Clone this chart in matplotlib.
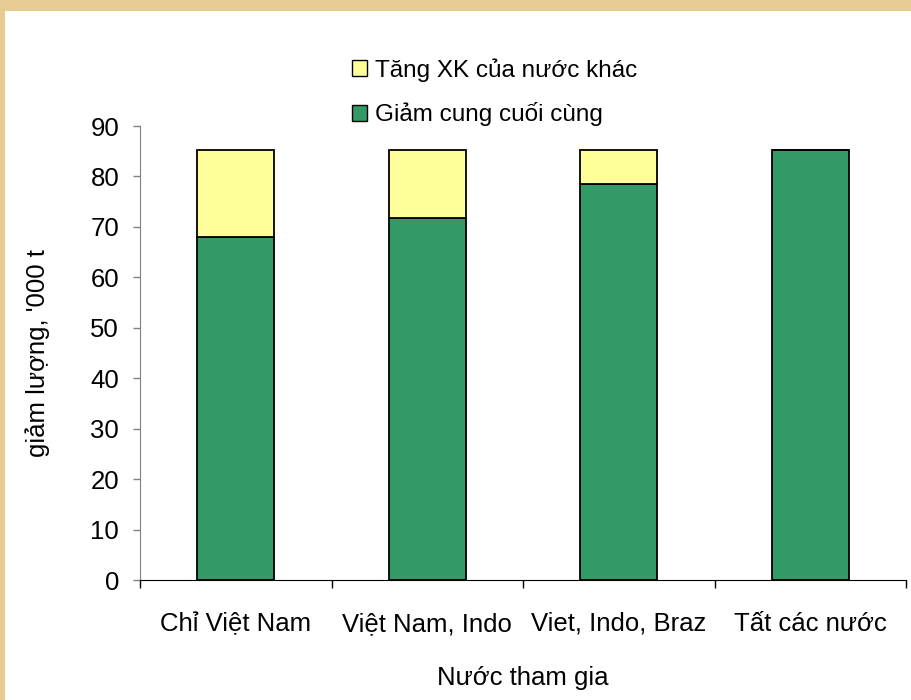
import matplotlib
matplotlib.use("Agg")
import matplotlib.pyplot as plt
from matplotlib.patches import Rectangle, Patch

# Dữ liệu
nhom = ["Chỉ Việt Nam", "Việt Nam, Indo", "Viet, Indo, Braz", "Tất các nước"]
giam_cung = [67.9, 71.8, 78.6, 85.3]
tang_xk = [17.4, 13.5, 6.7, 0.0]
mau_xanh = "#339966"
mau_vang = "#FFFF99"

plt.rcParams['font.family'] = ['Liberation Sans', 'DejaVu Sans']
plt.rcParams['font.size'] = 18.5

fig = plt.figure(figsize=(9.12, 7.0), dpi=100)
fig.patch.set_facecolor("#E6CC92")
# nền trắng của slide
fig.add_artist(Rectangle((5 / 912, 0), 1, 1 - 11 / 700, transform=fig.transFigure,
                         facecolor="white", edgecolor="none", zorder=0))

ax = fig.add_axes([140 / 912, 1 - 580 / 700, 766 / 912, 454 / 700])
ax.set_facecolor("none")

x = range(len(nhom))
ax.bar(x, giam_cung, width=0.4, color=mau_xanh, edgecolor="black", linewidth=1.3)
ax.bar(x, tang_xk, width=0.4, bottom=giam_cung, color=mau_vang, edgecolor="black", linewidth=1.3)

ax.set_xlim(-0.5, 3.5)
ax.set_ylim(0, 90)
ax.set_yticks(range(0, 91, 10))
ax.set_xticks(list(x))
ax.set_xticklabels(nhom)
ax.set_xticks([-0.5, 0.5, 1.5, 2.5, 3.5], minor=True)
ax.tick_params(axis="x", which="major", length=0, pad=23)
ax.tick_params(axis="x", which="minor", length=6, width=1, color="black", direction="out")
ax.tick_params(axis="y", length=5, width=1, color="#808080", pad=10)

for s in ["top", "right"]:
    ax.spines[s].set_visible(False)
ax.spines["left"].set_color("#808080")
ax.spines["bottom"].set_color("black")

ax.set_ylabel("giảm lượng, '000 t", labelpad=29)
ax.set_xlabel("Nước tham gia", labelpad=22)

handles = [Patch(facecolor=mau_vang, edgecolor="black"),
           Patch(facecolor=mau_xanh, edgecolor="black")]
fig.legend(handles, ["Tăng XK của nước khác", "Giảm cung cuối cùng"],
           loc="upper left", bbox_to_anchor=(340 / 912, 1 - 46 / 700),
           frameon=False, handlelength=0.6, handleheight=0.6, fontsize=17.5,
           handletextpad=0.35, labelspacing=0.85, borderpad=0)

fig.savefig("out.png", dpi=100, facecolor=fig.get_facecolor())
